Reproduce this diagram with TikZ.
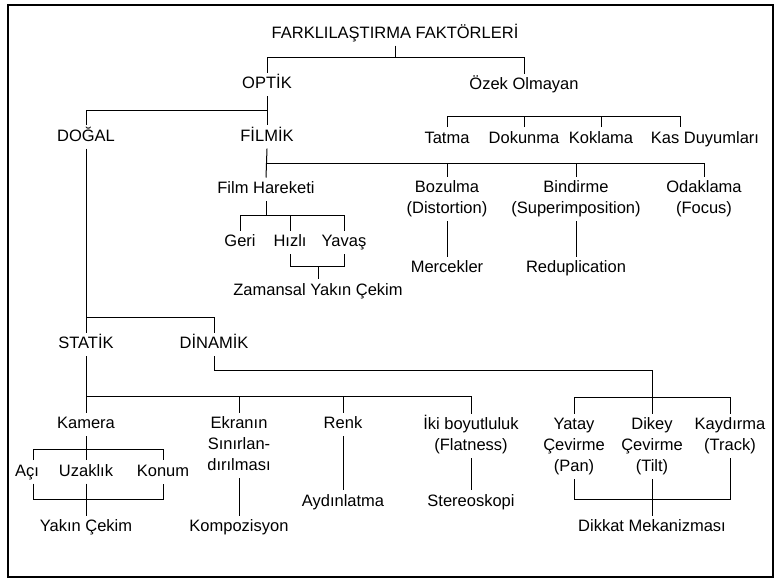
\documentclass[tikz,border=0pt]{standalone}
\usepackage{fontspec}
\setmainfont{Liberation Sans}
\newcommand\mlines[1]{\vtop{\halign{\hfil##\hfil\cr#1\crcr}}}
\begin{document}
\begin{tikzpicture}[x=1pt,y=-1pt,
  lbl/.style={font=\fontsize{16.5}{21}\selectfont, inner xsep=1pt, inner ysep=4pt,
              text height=11.8pt, text depth=3.5pt, anchor=base, text=black},
  two/.style={text depth=24.5pt},
  three/.style={text depth=45.5pt},
  conn/.style={line width=1pt, black},
  frame/.style={line width=1.2pt, black}
]
\useasboundingbox (0,0) rectangle (774,579);
\draw[frame] (8,5) rectangle (773,577);

% bar levels
\coordinate (b1) at (0,57);
\coordinate (b2) at (0,110);
\coordinate (b3) at (0,116);
\coordinate (b4) at (0,163);
\coordinate (b5) at (0,215);
\coordinate (b6) at (0,266);
\coordinate (b7) at (0,317);
\coordinate (b8) at (0,370);
\coordinate (b9) at (0,397);
\coordinate (b10) at (0,396);
\coordinate (b11) at (0,449);
\coordinate (b12) at (0,499);
\coordinate (b13) at (0,499);
\coordinate (kasx) at (680,0);
\coordinate (acix) at (33,0);

% nodes
\node[lbl] (title) at (395,38) {FARKLILAŞTIRMA FAKTÖRLERİ};
\node[lbl] (optik) at (267,88.5) {OPTİK};
\node[lbl] (ozek) at (524,89.5) {Özek Olmayan};
\node[lbl] (dogal) at (86,141) {DOĞAL};
\node[lbl] (filmik) at (267,141) {FİLMİK};
\node[lbl] (tatma) at (447,143) {Tatma};
\node[lbl] (dokunma) at (524,143) {Dokunma};
\node[lbl] (koklama) at (601,143) {Koklama};
\node[lbl] (kas) at (705,143) {Kas Duyumları};
\node[lbl] (filmh) at (266,193.5) {Film Hareketi};
\node[lbl,two] (bozulma) at (447,192.5) {\mlines{Bozulma\cr (Distortion)}};
\node[lbl,two] (bindirme) at (576,192.5) {\mlines{Bindirme\cr (Superimposition)}};
\node[lbl,two] (odaklama) at (704,192.5) {\mlines{Odaklama\cr (Focus)}};
\node[lbl] (geri) at (240,246.5) {Geri};
\node[lbl] (hizli) at (290,246.5) {Hızlı};
\node[lbl] (yavas) at (344,246.5) {Yavaş};
\node[lbl] (mercek) at (447,272.5) {Mercekler};
\node[lbl] (redup) at (576,272.5) {Reduplication};
\node[lbl] (zaman) at (318,295) {Zamansal Yakın Çekim};
\node[lbl] (statik) at (86,348.5) {STATİK};
\node[lbl] (dinamik) at (214,348.5) {DİNAMİK};
\node[lbl] (kamera) at (86,428.5) {Kamera};
\node[lbl,three] (ekran) at (239,428.5) {\mlines{Ekranın\cr Sınırlan-\cr dırılması}};
\node[lbl] (renk) at (343,428.5) {Renk};
\node[lbl,two] (iki) at (471,429.5) {\mlines{İki boyutluluk\cr (Flatness)}};
\node[lbl,three] (yatay) at (574,429.5) {\mlines{Yatay\cr Çevirme\cr (Pan)}};
\node[lbl,three] (dikey) at (652,429.5) {\mlines{Dikey\cr Çevirme\cr (Tilt)}};
\node[lbl,two] (kaydirma) at (730,429.5) {\mlines{Kaydırma\cr (Track)}};
\node[lbl] (aci) at (27,476) {Açı};
\node[lbl] (uzak) at (86,476) {Uzaklık};
\node[lbl] (konum) at (163,476) {Konum};
\node[lbl] (aydin) at (343,506) {Aydınlatma};
\node[lbl] (stereo) at (471,506) {Stereoskopi};
\node[lbl] (yakin) at (86,531.5) {Yakın Çekim};
\node[lbl] (kompo) at (239,531.5) {Kompozisyon};
\node[lbl] (dikkat) at (652,531.5) {Dikkat Mekanizması};

% connectors
\draw[conn] (title.south) -- (title.south |- b1);
\draw[conn] (optik.north) -- (optik.north |- b1) -- (ozek.north |- b1) -- (ozek.north);

\draw[conn] (optik.south) -- (filmik.north);
\draw[conn] (dogal.north) -- (dogal.north |- b2) -- (optik.south |- b2);

\draw[conn] (tatma.north) -- (tatma.north |- b3) -- (kasx |- b3) -- (kasx |- kas.north);
\draw[conn] (dokunma.north) -- (dokunma.north |- b3);
\draw[conn] (koklama.north) -- (koklama.north |- b3);

\draw[conn] (filmik.south) -- (filmh.north);
\draw[conn] (filmik.south |- b4) -- (odaklama.north |- b4) -- (odaklama.north);
\draw[conn] (bozulma.north) -- (bozulma.north |- b4);
\draw[conn] (bindirme.north) -- (bindirme.north |- b4);

\draw[conn] (filmh.south) -- (filmh.south |- b5);
\draw[conn] (geri.north) -- (geri.north |- b5) -- (yavas.north |- b5) -- (yavas.north);
\draw[conn] (hizli.north) -- (hizli.north |- b5);
\draw[conn] (hizli.south) -- (hizli.south |- b6) -- (yavas.south |- b6) -- (yavas.south);
\draw[conn] (zaman.north |- b6) -- (zaman.north);

\draw[conn] (bozulma.south) -- (mercek.north);
\draw[conn] (bindirme.south) -- (redup.north);

\draw[conn] (dogal.south) -- (statik.north);
\draw[conn] (dogal.south |- b7) -- (dinamik.north |- b7) -- (dinamik.north);

\draw[conn] (dinamik.south) -- (dinamik.south |- b8) -- (dikey.north |- b8) -- (dikey.north);
\draw[conn] (yatay.north) -- (yatay.north |- b9) -- (kaydirma.north |- b9) -- (kaydirma.north);

\draw[conn] (statik.south) -- (kamera.north);
\draw[conn] (kamera.north |- b10) -- (iki.north |- b10) -- (iki.north);
\draw[conn] (ekran.north) -- (ekran.north |- b10);
\draw[conn] (renk.north) -- (renk.north |- b10);

\draw[conn] (kamera.south) -- (uzak.north);
\draw[conn] (acix |- aci.north) -- (acix |- b11) -- (konum.north |- b11) -- (konum.north);
\draw[conn] (acix |- aci.south) -- (acix |- b12) -- (konum.south |- b12) -- (konum.south);
\draw[conn] (uzak.south) -- (yakin.north);

\draw[conn] (ekran.south) -- (kompo.north);
\draw[conn] (renk.south) -- (aydin.north);
\draw[conn] (iki.south) -- (stereo.north);

\draw[conn] (yatay.south) -- (yatay.south |- b13) -- (kaydirma.south |- b13) -- (kaydirma.south);
\draw[conn] (dikey.south) -- (dikkat.north);
\end{tikzpicture}
\end{document}
